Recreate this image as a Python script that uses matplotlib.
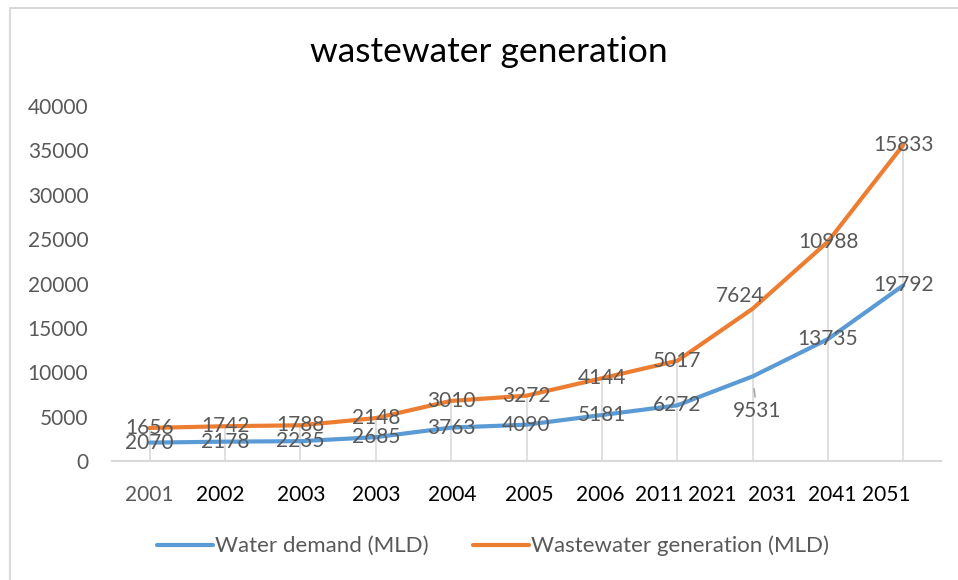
import matplotlib
matplotlib.use('Agg')
from matplotlib import pyplot as plt
from matplotlib.patches import Rectangle
import numpy as np

plt.rcParams['font.family'] = ['Lato', 'DejaVu Sans']

# categories on the x axis (one point per category)
years = ['2001', '2002', '2003', '2003', '2004', '2005', '2006',
         '2011', '2021', '2031', '2041', '2051']
water_demand = [2070, 2178, 2235, 2685, 3763, 4090, 5181, 6272, 9531, 13735, 19792]
wastewater = [1656, 1742, 1788, 2148, 3010, 3272, 4144, 5017, 7624, 10988, 15833]

# where Excel dropped the tick labels (category index units)
label_pos = [0, 0.93, 2.01, 3.01, 4.01, 5.03, 5.98, 6.76, 7.47, 8.26, 9.06, 9.77]

blue = '#5B9BD5'
orange = '#ED7D31'
grey_txt = '#595959'

x = np.arange(len(water_demand))
demand = np.array(water_demand)
stacked = demand + np.array(wastewater)

fig = plt.figure(figsize=(9.58, 5.8), dpi=100)
fig.patches.append(Rectangle((10 / 958, -0.1), 1.1, 1 - 8 / 580 + 0.1,
                             transform=fig.transFigure, fill=False,
                             edgecolor='#d9d9d9', linewidth=1.5))
ax = fig.add_axes([112 / 958, 119 / 580, 829 / 958, 355 / 580])

# soft gradient behind the plot area
grad = np.concatenate([np.ones(40), np.linspace(1, 0.935, 100), np.full(60, 0.935)])
ax.imshow(np.dstack([grad, grad, grad])[:, :1].repeat(2, axis=1),
          extent=(-0.5, 10.5, 0, 40000), aspect='auto', zorder=0)

ax.vlines(x, 0, stacked, color='#d9d9d9', linewidth=1.2, zorder=1)
ax.plot(x, demand, color=blue, linewidth=3, solid_capstyle='round',
        label='Water demand (MLD)', zorder=3)
ax.plot(x, stacked, color=orange, linewidth=3, solid_capstyle='round',
        label='Wastewater generation (MLD)', zorder=3)

for i in range(len(x)):
    if i == 8:
        ax.annotate(str(water_demand[i]), (x[i], demand[i]), xytext=(3, -25),
                    textcoords='offset points', ha='center', va='center',
                    fontsize=15, color=grey_txt, zorder=4,
                    arrowprops=dict(arrowstyle='-', color='#a6a6a6', lw=1.2,
                                    shrinkA=1, shrinkB=9))
        ax.annotate(str(wastewater[i]), (x[i], stacked[i]), xytext=(-9, 9),
                    textcoords='offset points', ha='center', va='center',
                    fontsize=15, color=grey_txt, zorder=4)
    else:
        ax.text(x[i], demand[i], str(water_demand[i]), ha='center', va='center',
                fontsize=15, color=grey_txt, zorder=4)
        ax.text(x[i], stacked[i], str(wastewater[i]), ha='center', va='center',
                fontsize=15, color=grey_txt, zorder=4)

ax.set_xlim(-0.5, 10.5)
ax.set_ylim(0, 40000)
ax.set_yticks(range(0, 40001, 5000))
ax.set_xticks(label_pos, years)
for k, lab in enumerate(ax.get_xticklabels()):
    lab.set_color(grey_txt if k == 0 else 'black')
ax.tick_params(axis='x', length=0, pad=17, labelsize=15)
ax.tick_params(axis='y', length=0, pad=17, labelsize=15, labelcolor=grey_txt)
for s in ['top', 'right', 'left']:
    ax.spines[s].set_visible(False)
ax.spines['bottom'].set_color('#d9d9d9')
ax.spines['bottom'].set_linewidth(1.5)

fig.text(489 / 958, 1 - 52 / 580, 'wastewater generation', ha='center',
         va='center', fontsize=25.5, color='black')

fig.legend(loc='center', bbox_to_anchor=(493 / 958, 1 - 546 / 580), ncol=2,
           frameon=False, fontsize=16, handlelength=2.5, handletextpad=0.1,
           columnspacing=2.0, labelcolor=grey_txt)

fig.savefig('out.png', dpi=100)
